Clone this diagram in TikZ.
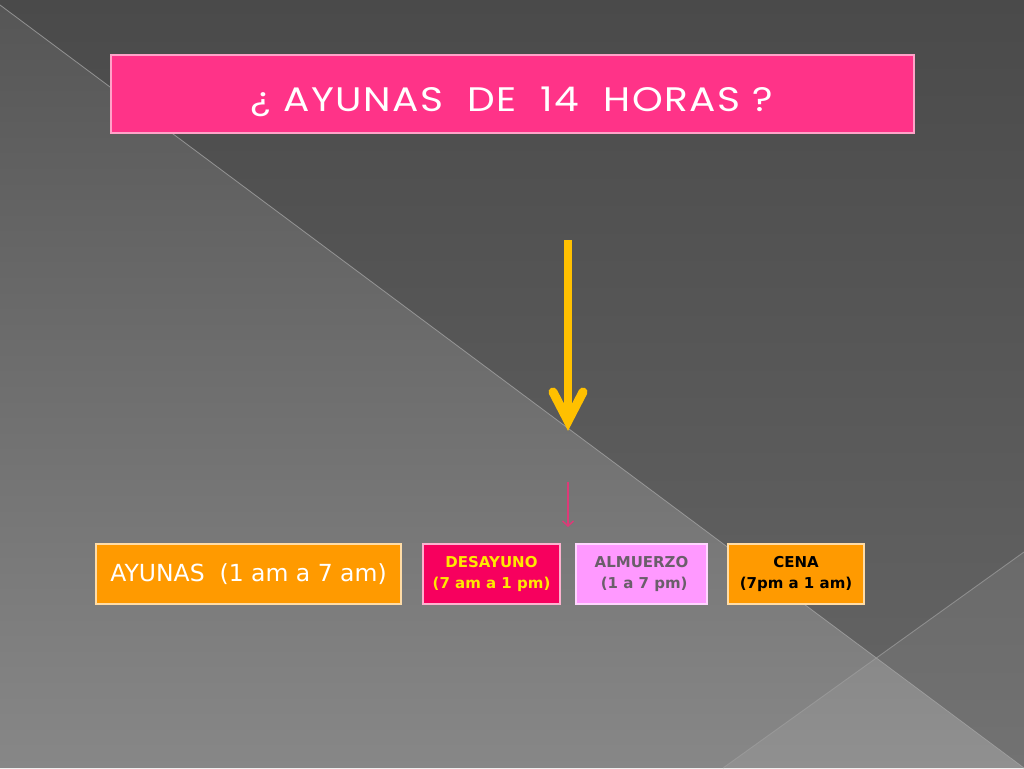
\documentclass[tikz,border=0pt]{standalone}
\usepackage{fontspec}
\setmainfont{DejaVu Sans}
\newfontfamily\titlefont[LetterSpace=4]{Poppins}
\newfontfamily\boxfont{DejaVu Sans}
\usetikzlibrary{arrows.meta,calc}
\definecolor{bgtop}{HTML}{4A4A4A}
\definecolor{bgbot}{HTML}{666666}
\definecolor{lltop}{HTML}{565656}
\definecolor{llmid}{HTML}{676767}
\definecolor{llbot}{HTML}{878787}
\definecolor{titlepink}{HTML}{FF3388}
\definecolor{orangebox}{HTML}{FF9A00}
\definecolor{desabox}{HTML}{F7005E}
\definecolor{almbox}{HTML}{FF99FF}
\definecolor{yellowtxt}{HTML}{FFE800}
\definecolor{graytxt}{HTML}{6A5E6A}
\definecolor{arrowyellow}{HTML}{FFC000}
\definecolor{arrowpink}{HTML}{DD3A78}
\definecolor{bgline}{HTML}{9E9E9E}
\tikzset{
  box/.style={rectangle, inner sep=0pt, line width=1.2pt, align=center},
  smallbox/.style={box, minimum width=#1, minimum height=60pt, font=\boxfont\bfseries\fontsize{15}{21.5}\selectfont},
  yarrow/.style={draw=arrowyellow, line width=8pt},
  parrow/.style={draw=arrowpink, line width=1.5pt, -{Straight Barb[length=5pt,width=11pt]}},
  bgedge/.style={draw=bgline, line width=0.9pt, opacity=0.7}
}
\begin{document}
\begin{tikzpicture}[x=1pt,y=-1pt]
\useasboundingbox (0,0) rectangle (1024,768);
% background
\shade[top color=bgtop, bottom color=bgbot] (0,0) -- (1024,0) -- (1024,768) -- (0,5) -- cycle;
\shade[top color=lltop, middle color=llmid, bottom color=llbot] (0,5) -- (1024,768) -- (0,768) -- cycle;
\fill[white, opacity=0.08] (723,768) -- (1024,552) -- (1024,768) -- cycle;
\draw[bgedge] (0,5) -- (1024,768);
\draw[bgedge] (723,768) -- (1024,552);
% title
\node[box, fill=titlepink, draw=titlepink!45!white, minimum width=803pt, minimum height=78pt] (title) at (512.5,94) {};
\node[text=white, inner sep=0pt, anchor=base, font=\titlefont\fontsize{34}{38}\selectfont] (titletext) at (512,111)
  {\scalebox{1.15}[1]{¿ AYUNAS\ \ DE\ \ 14\ \ HORAS ?}};
% arrows
\coordinate (ya) at (568,240);
\coordinate (yb) at (568,421);
\draw[yarrow] (ya) -- ($(yb)+(0,-6)$);
\draw[yarrow, line width=9pt, line cap=round, line join=miter] ($(yb)+(-15,-29)$) -- (yb) -- ($(yb)+(15,-29)$);
\coordinate (pa) at (568,482);
\coordinate (pb) at (568,527);
\draw[parrow] (pa) -- (pb);
% boxes
\node[box, fill=orangebox, draw=orangebox!35!white, minimum width=305pt, minimum height=60pt,
      text=white, font=\boxfont\fontsize{23.5}{26}\selectfont] (ayunas) at (248.5,574) {AYUNAS\ \ (1 am a 7 am)};
\node[smallbox=137pt, fill=desabox, draw=desabox!30!white, text=yellowtxt] (desayuno) at (491.5,574) {DESAYUNO\\(7 am a 1 pm)};
\node[smallbox=131pt, fill=almbox, draw=almbox!40!white, text=graytxt] (almuerzo) at (641.5,574) {ALMUERZO\\\ (1 a 7 pm)};
\node[smallbox=136pt, fill=orangebox, draw=orangebox!35!white, text=black] (cena) at (796,574) {CENA\\(7pm a 1 am)};
\end{tikzpicture}
\end{document}
